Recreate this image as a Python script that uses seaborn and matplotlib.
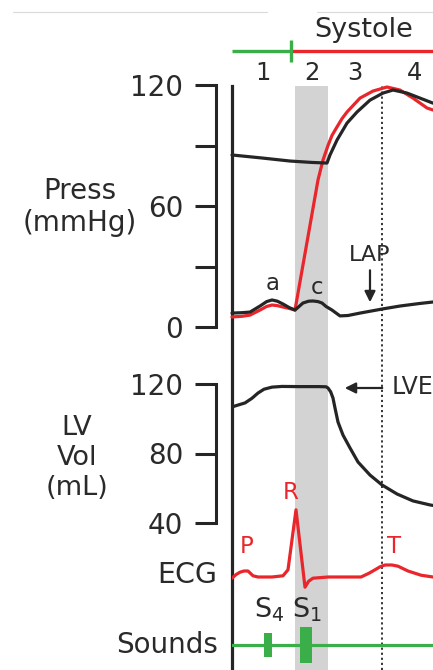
import numpy as np
import pandas as pd
import matplotlib.pyplot as plt
import seaborn as sns
from matplotlib.lines import Line2D

sns.set_style('white')
plt.rcParams['font.family'] = ['DejaVu Sans']
plt.rcParams['mathtext.fontset'] = 'dejavusans'

# time in ms from the start of the shown window
T_MAX = 301.5

# aortic pressure (mmHg)
aorta_t = [0, 45, 87, 120, 142.5, 147, 157.5, 172.5, 187.5, 207, 226.5, 241.5, 262.5, 282, 301.5]
aorta_p = [85.3, 83.8, 82.3, 81.6, 81.3, 85.3, 92.7, 101.1, 106.6, 112.5, 116.0, 117.5, 116.0, 113.5, 111.0]

# LV pressure (mmHg)
lvp_t = [0, 15, 27, 42, 52, 60, 68, 76.5, 86, 94.5, 129, 136.5, 144, 150, 157.5, 165, 172.5, 192, 211.5, 232.5, 252, 271.5, 292.5, 301.5]
lvp_p = [5.0, 5.3, 5.9, 8.4, 10.2, 10.9, 10.6, 9.9, 9.2, 8.4, 72.9, 82.8, 90.0, 95.0, 99.2, 103.3, 106.6, 113.5, 117.0, 119.0, 117.5, 113.5, 108.6, 107.6]

# left atrial pressure (mmHg)
lap_t = [0, 15, 27, 42, 52, 60, 68, 76.5, 86, 94.5, 106.5, 115, 121.5, 129, 135, 141, 150, 162, 174, 192, 225, 252, 280, 301.5]
lap_p = [6.9, 7.1, 7.4, 10.4, 12.6, 13.4, 12.8, 11.4, 9.6, 8.4, 11.9, 12.8, 12.9, 12.6, 11.9, 10.2, 8.4, 5.5, 5.7, 6.9, 8.9, 10.4, 11.6, 12.4]

# LV volume (mL)
vol_t = [0, 10, 19.5, 30, 39, 48, 60, 75, 100, 130, 141, 144, 148, 151.5, 154.5, 159, 166.5, 177, 189, 207, 225, 247.5, 271.5, 297, 301.5]
vol_v = [106.8, 108.0, 109.1, 111.8, 114.8, 117.0, 118.2, 118.6, 118.5, 118.5, 118.4, 117.7, 115.5, 111.9, 106.2, 98.1, 90.6, 83.2, 75.1, 67.6, 61.9, 56.7, 52.7, 50.4, 50.1]

# ECG (mV)
ecg_t = [0, 6, 12, 18, 24, 31.5, 39, 60, 76.5, 84, 96, 109.5, 115, 121.5, 144, 193.5, 205, 214.5, 222, 229.5, 240, 249, 264, 283.5, 301.5]
ecg_mv = [-0.02, 0.04, 0.08, 0.1, 0.1, 0.02, 0.0, 0.0, 0.02, 0.12, 1.12, -0.17, -0.07, -0.02, 0.0, 0.0, 0.06, 0.12, 0.17, 0.2, 0.2, 0.18, 0.1, 0.03, 0.0]

# heart sounds
sound_t = [54, 111]
sound_amp = [0.5, 0.75]
sound_w = [12, 18]
sound_names = [r'S$_4$', r'S$_1$']

# phases
systole_start = 88.5
ivc_start, ivc_end = 94.5, 144
marker_t = 225
phase_labels = ['1', '2', '3', '4']
phase_t = [46.5, 120, 184.5, 274.5]

BLACK = '#252525'
RED = '#e8262b'
GREEN = '#3aae49'
GREY = '#d3d3d3'
TXT = '#2a2a2a'

W, H = 433, 670
fig = plt.figure(figsize=(W / 100, H / 100), dpi=100)


def rect(top_px, bot_px):
    left = 232 / W
    return [left, 1 - bot_px / H, 1 - left, (bot_px - top_px) / H]


# background: time axis line, grey band and marker line
bg = fig.add_axes(rect(86, H))
bg.set_xlim(0, T_MAX)
bg.set_ylim(0, 1)
bg.axvspan(ivc_start, ivc_end, color=GREY, lw=0)
bg.axvline(marker_t, color=BLACK, lw=1.3, ls=(0, (1.2, 1.6)))
for s in ['top', 'right', 'bottom']:
    bg.spines[s].set_visible(False)
bg.spines['left'].set_linewidth(2.3)
bg.spines['left'].set_color(BLACK)
bg.set_xticks([])
bg.set_yticks([])

# faint rule at the very top
fig.add_artist(Line2D([13 / W, 267 / W], [1 - 12 / H] * 2, color='#dadada', lw=0.8))
fig.add_artist(Line2D([317 / W, 1], [1 - 12 / H] * 2, color='#dadada', lw=0.8))

# phase bar
top = fig.add_axes(rect(0, 85))
top.set_xlim(0, T_MAX)
top.set_ylim(0, 1)
top.axis('off')
top.plot([0, systole_start], [0.4, 0.4], color=GREEN, lw=2.4, solid_capstyle='butt')
top.plot([systole_start, T_MAX], [0.4, 0.4], color=RED, lw=2.4, solid_capstyle='butt', clip_on=False)
top.plot([systole_start, systole_start], [0.27, 0.53], color=GREEN, lw=2.4, solid_capstyle='butt')
top.text(198, 0.565, 'Systole', fontsize=19.5, ha='center', va='baseline', color=TXT)
for lab, t in zip(phase_labels, phase_t):
    top.text(t, 0.06, lab, fontsize=17.5, ha='center', va='baseline', color=TXT)


def scale_axis(ax, ticks, labels, lo, hi):
    ax.set_facecolor('none')
    for s in ['top', 'right', 'bottom']:
        ax.spines[s].set_visible(False)
    sp = ax.spines['left']
    sp.set_position(('outward', 16 * 0.72))
    sp.set_bounds(lo, hi)
    sp.set_linewidth(2.2)
    sp.set_color(BLACK)
    ax.set_xticks([])
    ax.set_yticks(ticks)
    ax.set_yticklabels(labels)
    ax.tick_params(axis='y', direction='out', length=15, width=2.2, pad=8.5,
                   labelsize=20, color=BLACK, labelcolor=TXT, left=True)
    ax.set_xlabel('')
    ax.set_ylabel('')


# pressure panel
axp = fig.add_axes(rect(85, 327))
sns.lineplot(x=lvp_t, y=lvp_p, ax=axp, color=RED, lw=2.3)
sns.lineplot(x=lap_t, y=lap_p, ax=axp, color=BLACK, lw=2.3)
sns.lineplot(x=aorta_t, y=aorta_p, ax=axp, color=BLACK, lw=2.3)
for ln in axp.lines:
    ln.set_clip_on(False)
    ln.set_solid_joinstyle('round')
axp.set_xlim(0, T_MAX)
axp.set_ylim(0, 120)
scale_axis(axp, [0, 30, 60, 90, 120], ['0', '', '60', '', '120'], 0, 120)
axp.text(61.5, 18.3, 'a', fontsize=16.5, ha='center', va='baseline', color=TXT)
axp.text(127.5, 16.4, 'c', fontsize=16.5, ha='center', va='baseline', color=TXT)
axp.text(207, 32.7, 'LAP', fontsize=16, ha='center', va='baseline', color=TXT)
axp.annotate('', xy=(207, 10.9), xytext=(207, 29.5),
             arrowprops=dict(arrowstyle='-|>', color=BLACK, lw=1.6, mutation_scale=16))

# volume panel
axv = fig.add_axes(rect(384, 523))
sns.lineplot(x=vol_t, y=vol_v, ax=axv, color=BLACK, lw=2.3)
for ln in axv.lines:
    ln.set_solid_joinstyle('round')
axv.set_xlim(0, T_MAX)
axv.set_ylim(40, 120)
scale_axis(axv, [40, 80, 120], ['40', '80', '120'], 40, 120)
axv.text(240, 114.2, 'LVEDV', fontsize=17, ha='left', va='baseline', color=TXT, clip_on=False)
axv.annotate('', xy=(165, 117.7), xytext=(229.5, 117.7),
             arrowprops=dict(arrowstyle='-|>', color=BLACK, lw=1.6, mutation_scale=16))

# ECG panel
axe = fig.add_axes(rect(505, 607))
sns.lineplot(x=ecg_t, y=ecg_mv, ax=axe, color=RED, lw=2.3)
for ln in axe.lines:
    ln.set_solid_joinstyle('round')
axe.set_xlim(0, T_MAX)
axe.set_ylim(-0.5, 1.2)
axe.axis('off')
axe.text(22.5, 0.4, 'P', fontsize=16.5, ha='center', va='baseline', color=RED)
axe.text(88.5, 1.3, 'R', fontsize=16.5, ha='center', va='baseline', color=RED)
axe.text(243, 0.4, 'T', fontsize=16.5, ha='center', va='baseline', color=RED)

# sounds panel
axs = fig.add_axes(rect(621, 669))
axs.set_xlim(0, T_MAX)
axs.set_ylim(-1, 1)
axs.axis('off')
axs.axhline(0, color=GREEN, lw=2.3)
amp = np.array(sound_amp)
axs.bar(sound_t, 2 * amp, bottom=-amp, width=sound_w, color=GREEN, lw=0)
for name, t in zip(sound_names, sound_t):
    axs.text(t + 1.5, 1.125, name, fontsize=19.5, ha='center', va='baseline', color=TXT)

# row titles
fig.text(80 / W, 1 - 207 / H, 'Press\n(mmHg)', fontsize=20, ha='center', va='center',
         linespacing=1.2, color=TXT)
fig.text(77 / W, 1 - 458 / H, 'LV\nVol\n(mL)', fontsize=19.5, ha='center', va='center',
         linespacing=1.22, color=TXT)
fig.text(217 / W, 1 - 575 / H, 'ECG', fontsize=20.5, ha='right', va='center', color=TXT)
fig.text(218 / W, 1 - 645 / H, 'Sounds', fontsize=20, ha='right', va='center', color=TXT)

fig.savefig('out.png', dpi=100)
